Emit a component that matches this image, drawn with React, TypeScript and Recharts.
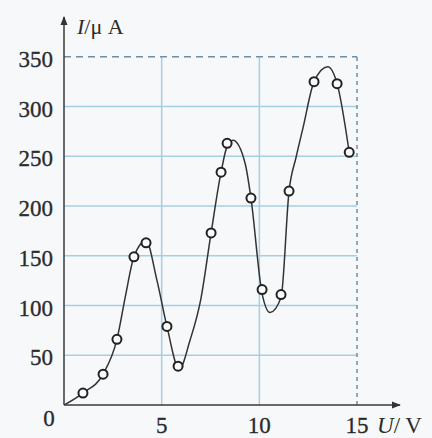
import React from 'react';
import { ComposedChart, Line, Scatter, XAxis, YAxis, ReferenceLine } from 'recharts';

// measured points (open circles)
const uMeasured = [0.97, 2.0, 2.71, 3.58, 4.2, 5.27, 5.84, 7.53, 8.04, 8.35, 9.57, 10.14, 11.11, 11.52, 12.8, 13.98, 14.6];
const iMeasured = [12, 31, 66, 149, 163, 79, 39, 173, 234, 263, 208, 116, 111, 215, 325, 323, 254];

// fitted curve
const uCurve = [0, 0.97, 2.0, 2.71, 3.15, 3.58, 4.2, 4.75, 5.27, 5.9, 6.45, 7.0, 7.53, 8.04, 8.35, 8.65, 9.27, 9.57, 10.14, 10.55, 11.11, 11.52, 11.88, 12.24, 12.8, 13.5, 13.98, 14.6];
const iCurve = [0, 12, 31, 66, 110, 149, 165, 126, 79, 36, 65, 106, 173, 234, 260, 266, 243, 208, 112, 93, 108, 215, 249, 279, 325, 340, 323, 254];

const uTicks = [0, 5, 10, 15];
const iTicks = [50, 100, 150, 200, 250, 300, 350];
const uGrid = [5, 10];
const iGrid = [50, 100, 150, 200, 250, 300];

const measured = uMeasured.map((u, k) => ({ u, i: iMeasured[k] }));
const curve = uCurve.map((u, k) => ({ u, i: iCurve[k] }));

const FONT = '"Liberation Serif", "DejaVu Serif", serif';
const INK = '#2b2b2b';
const GRID = '#a6cfe6';
const DASH = '#6f8ea6';

function UTick({ x, y, payload }: any) {
    const zero = payload.value === 0;
    return (
        <text x={zero ? x - 15 : x} y={y} dy={zero ? 21 : 28} textAnchor="middle"
            fontFamily={FONT} fontSize={23} fill={INK} stroke={INK} strokeWidth={0.3}>
            {payload.value}
        </text>
    );
}

function ITick({ x, y, payload }: any) {
    return (
        <text x={x} y={y} dy={10} textAnchor="end" fontFamily={FONT} fontSize={23}
            fill={INK} stroke={INK} strokeWidth={0.3}>
            {payload.value}
        </text>
    );
}

function Circle({ cx, cy }: any) {
    return <circle cx={cx} cy={cy} r={4.5} fill="#fbfbfb" stroke="#222" strokeWidth={2} />;
}

export default function App() {
    return (
        <div style={{ position: 'absolute', left: 0, top: 0, width: 432, height: 438, background: '#f6f8fa' }}>
            <ComposedChart width={432} height={438} margin={{ top: 17, right: 32, bottom: 0, left: 0 }}>
                <defs>
                    <marker id="arrowHead" viewBox="0 0 10 10" refX="9" refY="5" markerWidth="9" markerHeight="9"
                        markerUnits="userSpaceOnUse" orient="auto-start-reverse">
                        <path d="M0,1 L10,5 L0,9 Z" fill="#333" />
                    </marker>
                </defs>
                <XAxis dataKey="u" type="number" domain={[0, 17.2]} allowDataOverflow ticks={uTicks}
                    height={33} tickSize={0} tickMargin={0} tick={<UTick />}
                    axisLine={{ stroke: '#3a3a3a', strokeWidth: 1.5, markerEnd: 'url(#arrowHead)' }}
                    label={(p: any) => {
                        const vb = p.viewBox;
                        return (
                            <text x={vb.x + vb.width - 23} y={vb.y + 28} fontFamily={FONT} fontSize={23} fill={INK}>
                                <tspan fontStyle="italic">U</tspan>/ V
                            </text>
                        );
                    }} />
                <YAxis type="number" domain={[0, 390]} allowDataOverflow ticks={iTicks}
                    width={64} tickSize={0} tickMargin={11} tick={<ITick />}
                    axisLine={{ stroke: '#3a3a3a', strokeWidth: 1.5, markerStart: 'url(#arrowHead)' }}
                    label={(p: any) => {
                        const vb = p.viewBox;
                        return (
                            <text x={vb.x + vb.width + 13} y={vb.y + 17} fontFamily={FONT} fontSize={22} fill={INK}>
                                <tspan fontStyle="italic">I</tspan>/μ A
                            </text>
                        );
                    }} />

                {iGrid.map((v) => (
                    <ReferenceLine key={'h' + v} segment={[{ x: 0, y: v }, { x: 15, y: v }]} stroke={GRID} strokeWidth={1.5} />
                ))}
                {uGrid.map((v) => (
                    <ReferenceLine key={'v' + v} segment={[{ x: v, y: 0 }, { x: v, y: 350 }]} stroke={GRID} strokeWidth={1.5} />
                ))}
                <ReferenceLine segment={[{ x: 0, y: 350 }, { x: 15, y: 350 }]} stroke={DASH} strokeWidth={1.5} strokeDasharray="7 5" />
                <ReferenceLine segment={[{ x: 15, y: 0 }, { x: 15, y: 350 }]} stroke={DASH} strokeWidth={1.5} strokeDasharray="4 4" />

                <Line data={curve} dataKey="i" type="monotone" stroke="#333" strokeWidth={1.5}
                    dot={false} activeDot={false} isAnimationActive={false} />
                <Scatter data={measured} dataKey="i" shape={<Circle />} isAnimationActive={false} />
            </ComposedChart>
        </div>
    );
}
